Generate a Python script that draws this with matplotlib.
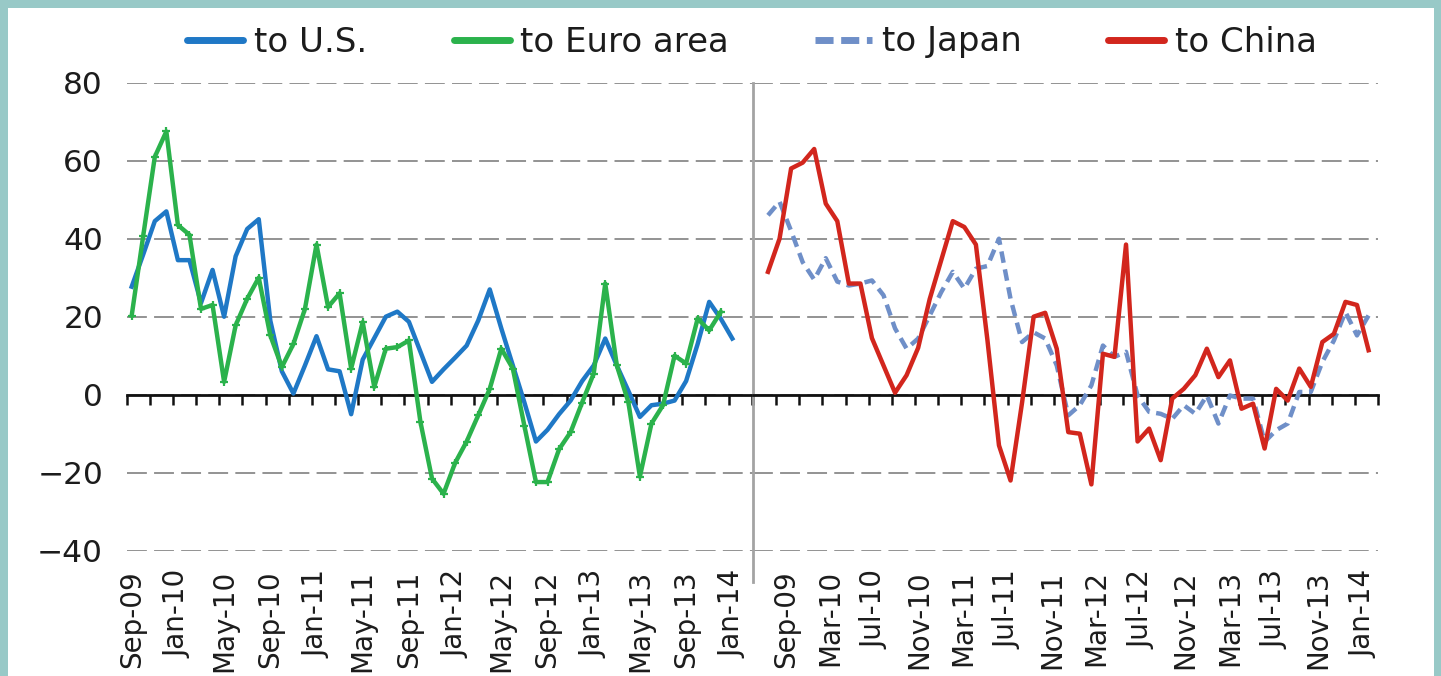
import numpy as np
import matplotlib
matplotlib.use("Agg")
import matplotlib.pyplot as plt
from matplotlib.patches import Rectangle
from matplotlib.lines import Line2D

# ---------------- data ----------------
left_labels = ["Sep-09", "Jan-10", "May-10", "Sep-10", "Jan-11", "May-11", "Sep-11",
               "Jan-12", "May-12", "Sep-12", "Jan-13", "May-13", "Sep-13", "Jan-14"]
right_labels = ["Sep-09", "Mar-10", "Jul-10", "Nov-10", "Mar-11", "Jul-11", "Nov-11",
                "Mar-12", "Jul-12", "Nov-12", "Mar-13", "Jul-13", "Nov-13", "Jan-14"]

us = [27.7, 36, 44.5, 47, 34.5, 34.5, 23.5, 32, 20, 35.5, 42.5, 45, 19, 6, 0.3, 7.5,
      15, 6.5, 6, -5, 9, 14.5, 20, 21.3, 18.7, 11, 3.3, 6.5, 9.5, 12.6, 19, 27, 17,
      7.5, -2, -12, -9, -5, -1.5, 3.5, 7.5, 14.4, 7.5, 1, -5.7, -2.7, -2.3, -1.5,
      3.5, 13, 23.8, 19.5, 14.4]
euro = [20.3, 40.8, 61, 67.5, 43.5, 41, 22, 23, 3.3, 17.8, 24.6, 30, 15.2, 7.1, 13,
        22, 38.5, 22.5, 26, 6.7, 18.6, 2, 11.8, 12.2, 13.9, -7, -21.5, -25.4, -17.5,
        -12, -5.3, 1.5, 11.8, 6.7, -8, -22.4, -22.4, -14, -9.6, -2, 5.4, 28.5, 7.5,
        -1.9, -21, -7.4, -2.7, 10, 8, 19.5, 16.5, 21.2]
japan = [46, 49.5, 42, 34, 29.5, 35, 29, 28, 28.5, 29.3, 25.5, 17, 11.8, 14.4, 20.3,
         26.3, 31.5, 27.2, 32.3, 33, 40, 24.6, 13.5, 16, 14.4, 7.5, -5.3, -2.7, 2.4,
         12.6, 9.7, 11, -0.2, -4.4, -4.9, -6.2, -2.7, -4.9, -0.2, -7.4, -0.2, -1, -1,
         -12.1, -9.1, -7.4, 0.7, 0.7, 8.4, 13.9, 21.2, 15.2, 20.3]
china = [31.5, 40, 58, 59.5, 63, 49, 44.5, 28.5, 28.5, 14.5, 7.5, 0.5, 5, 12, 24.5,
         34.5, 44.5, 43, 38.5, 14, -13, -22, -2, 20, 21, 11.8, -9.6, -10, -23, 10.5,
         9.7, 38.5, -12, -8.7, -16.8, -1, 1.5, 5, 11.8, 4.5, 8.8, -3.6, -2.3, -13.8,
         1.5, -1.5, 6.7, 2, 13.5, 15.6, 23.8, 23, 11.4]

# ---------------- layout (pixels of the 1441x676 canvas) ----------------
W, H = 1441, 676
AX_L0, AX_MID, AX_R1 = 126.7, 753.0, 1378.0
Y_TOP, Y_BOT = 82.7, 550.7
STEP = 11.55            # px per month
L_FIRST, R_FIRST = 131.7, 768.0
TICK_STEP = 23.15

c_us, c_eu, c_jp, c_cn = "#1f78c6", "#2bb24c", "#6f8fc8", "#d2261d"
grid_c = "#8a8a8a"
txt_c = "#1c1c1c"
FONT = "DejaVu Sans"


def to_idx(px, first):
    return (px - first) / STEP


fig = plt.figure(figsize=(W / 100, H / 100), dpi=100, facecolor="#98c9c7")
fig.patches.append(Rectangle((8 / W, 0), (1434 - 8) / W, (H - 8) / H,
                             transform=fig.transFigure, facecolor="white",
                             edgecolor="none", zorder=-5))

bottom = 1 - Y_BOT / H
height = (Y_BOT - Y_TOP) / H
axL = fig.add_axes([AX_L0 / W, bottom, (AX_MID - AX_L0) / W, height])
axR = fig.add_axes([AX_MID / W, bottom, (AX_R1 - AX_MID) / W, height])

for ax, first, x0px, x1px, labels, label_px in (
        (axL, L_FIRST, AX_L0, AX_MID, left_labels, L_FIRST + 46.2 * np.arange(14)),
        (axR, R_FIRST, AX_MID, AX_R1, right_labels, np.linspace(786, 1363, 14))):
    ax.set_facecolor("none")
    ax.set_xlim(to_idx(x0px, first), to_idx(x1px, first))
    ax.set_ylim(-40, 80)
    ax.set_yticks(np.arange(-40, 81, 20))
    ax.yaxis.grid(True, color=grid_c, linewidth=1.3, linestyle=(0, (11, 4)))
    ax.set_axisbelow(True)
    for s in ("top", "right", "left"):
        ax.spines[s].set_visible(False)
    ax.spines["bottom"].set_position(("data", 0))
    ax.spines["bottom"].set_linewidth(2.0)
    ax.spines["bottom"].set_color("#111111")
    ticks_px = x0px + TICK_STEP * np.arange(28)
    ax.set_xticks(to_idx(ticks_px, first))
    ax.tick_params(axis="x", direction="out", length=7, width=1.8, color="#111111",
                   labelbottom=False)
    sec = ax.secondary_xaxis("bottom")
    sec.set_xticks(to_idx(label_px, first), labels)
    sec.tick_params(length=0, pad=14, labelsize=20, labelcolor=txt_c)
    for lab in sec.get_xticklabels():
        lab.set_rotation(90)
        lab.set_family(FONT)
    sec.spines["bottom"].set_visible(False)

axL.tick_params(axis="y", length=0, pad=17, labelsize=22.5, labelcolor=txt_c)
for lab in axL.get_yticklabels():
    lab.set_family(FONT)
axR.tick_params(axis="y", length=0, labelleft=False)
axR.spines["left"].set_visible(True)
axR.spines["left"].set_color("#a3a3a3")
axR.spines["left"].set_linewidth(2.0)
axR.spines["left"].set_bounds(-48, 80)

xL = np.arange(len(us))
axL.plot(xL, us, color=c_us, lw=3.2, zorder=3, solid_joinstyle="round")
axL.plot(np.arange(len(euro)), euro, color=c_eu, lw=3.2, zorder=4,
         marker="+", markersize=6, markeredgewidth=1.6, solid_joinstyle="round")
axR.plot(np.arange(len(japan)), japan, color=c_jp, lw=3.2, zorder=3,
         dashes=(2.6, 1.5))
axR.plot(np.arange(len(china)), china, color=c_cn, lw=3.2, zorder=4,
         solid_joinstyle="round")

handles = [
    Line2D([], [], color=c_us, lw=5, solid_capstyle="round"),
    Line2D([], [], color=c_eu, lw=5, solid_capstyle="round"),
    Line2D([], [], color=c_jp, lw=5, dashes=(2.6, 1.1)),
    Line2D([], [], color=c_cn, lw=5, solid_capstyle="round"),
]
fig.legend(handles, ["to U.S.", "to Euro area", "to Japan", "to China"],
           loc="center", bbox_to_anchor=(752 / W, 1 - 42 / H), ncol=4,
           frameon=False, handlelength=1.65, handletextpad=0.3, columnspacing=2.55,
           prop={"family": FONT, "size": 24.5}, labelcolor=txt_c)

fig.savefig("out.png", dpi=100, facecolor=fig.get_facecolor())
